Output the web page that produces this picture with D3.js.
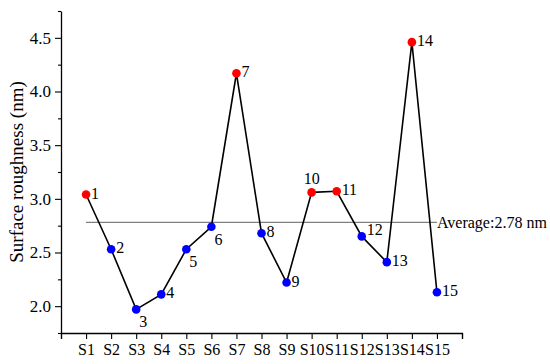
<!DOCTYPE html>
<html>
<head>
<meta charset="utf-8">
<script src="https://cdn.jsdelivr.net/npm/d3@7"></script>
<style>
  body { margin: 0; background: #fff; }
  svg text { font-family: 'Liberation Serif', 'Times New Roman', serif; fill: #000; }
</style>
</head>
<body>
<svg id="chart" width="550" height="364"></svg>
<script>
// data
let samples = ['S1','S2','S3','S4','S5','S6','S7','S8','S9','S10','S11','S12','S13','S14','S15'];
let roughness = [3.04, 2.53, 1.97, 2.11, 2.53, 2.74, 4.17, 2.68, 2.22, 3.06, 3.07, 2.65, 2.41, 4.46, 2.13];
let pointLabels = ['1','2','3','4','5','6','7','8','9','10','11','12','13','14','15'];
let labelSide = ['r','r','br','r','br','br','r','r','r','t','r','rt','r','r','r'];
let average = 2.78;
let yTicks = [2.0, 2.5, 3.0, 3.5, 4.0, 4.5];
let yMinor = [1.75, 2.25, 2.75, 3.25, 3.75, 4.25, 4.75];

let svg = d3.select('#chart');

let x = d3.scaleLinear().domain([0, 16]).range([61, 462]);
let y = d3.scaleLinear().domain([1.75, 4.75]).range([333, 11]);

// x axis
let xAxis = d3.axisBottom(x)
  .tickValues(d3.range(0, 17))
  .tickSize(6)
  .tickFormat(function(d){ return (d >= 1 && d <= 15) ? samples[d-1] : ''; });

let gx = svg.append('g')
  .attr('transform','translate(0,333)')
  .call(xAxis);
gx.select('.domain').attr('stroke','#000').attr('stroke-width',1.3);
gx.selectAll('.tick line').attr('stroke','#000').attr('stroke-width',1.1);
gx.selectAll('.tick text')
  .attr('y', 11)
  .style('font-size','16px')
  .style('font-family',"'Liberation Serif', serif");

// y axis minor ticks
let gyMinor = svg.append('g')
  .attr('transform','translate(61,0)')
  .call(d3.axisLeft(y).tickValues(yMinor).tickSize(3).tickFormat(''));
gyMinor.select('.domain').remove();
gyMinor.selectAll('.tick line').attr('stroke','#000').attr('stroke-width',1.1);

// y axis major
let gy = svg.append('g')
  .attr('transform','translate(61,0)')
  .call(d3.axisLeft(y).tickValues(yTicks).tickSize(6).tickSizeOuter(0).tickFormat(d3.format('.1f')));
gy.select('.domain').attr('stroke','#000').attr('stroke-width',1.3);
gy.selectAll('.tick line').attr('stroke','#000').attr('stroke-width',1.1);
gy.selectAll('.tick text')
  .attr('x', -10)
  .style('font-size','17px')
  .style('font-family',"'Liberation Serif', serif");

// axis title
svg.append('text')
  .attr('transform','translate(23,172) rotate(-90)')
  .attr('text-anchor','middle')
  .style('font-size','19px')
  .text('Surface roughness (nm)');

// average line
svg.append('line')
  .attr('x1', x(1)).attr('x2', x(15))
  .attr('y1', y(average)).attr('y2', y(average))
  .attr('stroke','#7f7f7f')
  .attr('stroke-width',1.2);

svg.append('text')
  .attr('x', x(15))
  .attr('y', y(average))
  .attr('dy','0.35em')
  .style('font-size','16px')
  .text('Average:' + average + ' nm');

// data line
let line = d3.line()
  .x(function(d,i){ return x(i+1); })
  .y(function(d){ return y(d); });

svg.append('path')
  .datum(roughness)
  .attr('d', line)
  .attr('fill','none')
  .attr('stroke','#000')
  .attr('stroke-width',1.6);

// points
svg.selectAll('.pt')
  .data(roughness)
  .enter()
  .append('circle')
  .attr('class','pt')
  .attr('cx', function(d,i){ return x(i+1); })
  .attr('cy', function(d){ return y(d); })
  .attr('r', 4.3)
  .attr('fill', function(d){ return d > average ? '#ff0000' : '#0000ff'; });

// point labels
svg.selectAll('.lbl')
  .data(roughness)
  .enter()
  .append('text')
  .attr('class','lbl')
  .style('font-size','16px')
  .attr('text-anchor', function(d,i){ return labelSide[i] === 't' ? 'middle' : 'start'; })
  .attr('x', function(d,i){
    let s = labelSide[i];
    if (s === 't') return x(i+1);
    if (s === 'br') return x(i+1) + 3;
    return x(i+1) + 5;
  })
  .attr('y', function(d,i){
    let s = labelSide[i];
    if (s === 't') return y(d) - 8;
    if (s === 'br') return y(d) + 18;
    if (s === 'rt') return y(d) - 1;
    return y(d) + 4;
  })
  .text(function(d,i){ return pointLabels[i]; });
</script>
</body>
</html>
